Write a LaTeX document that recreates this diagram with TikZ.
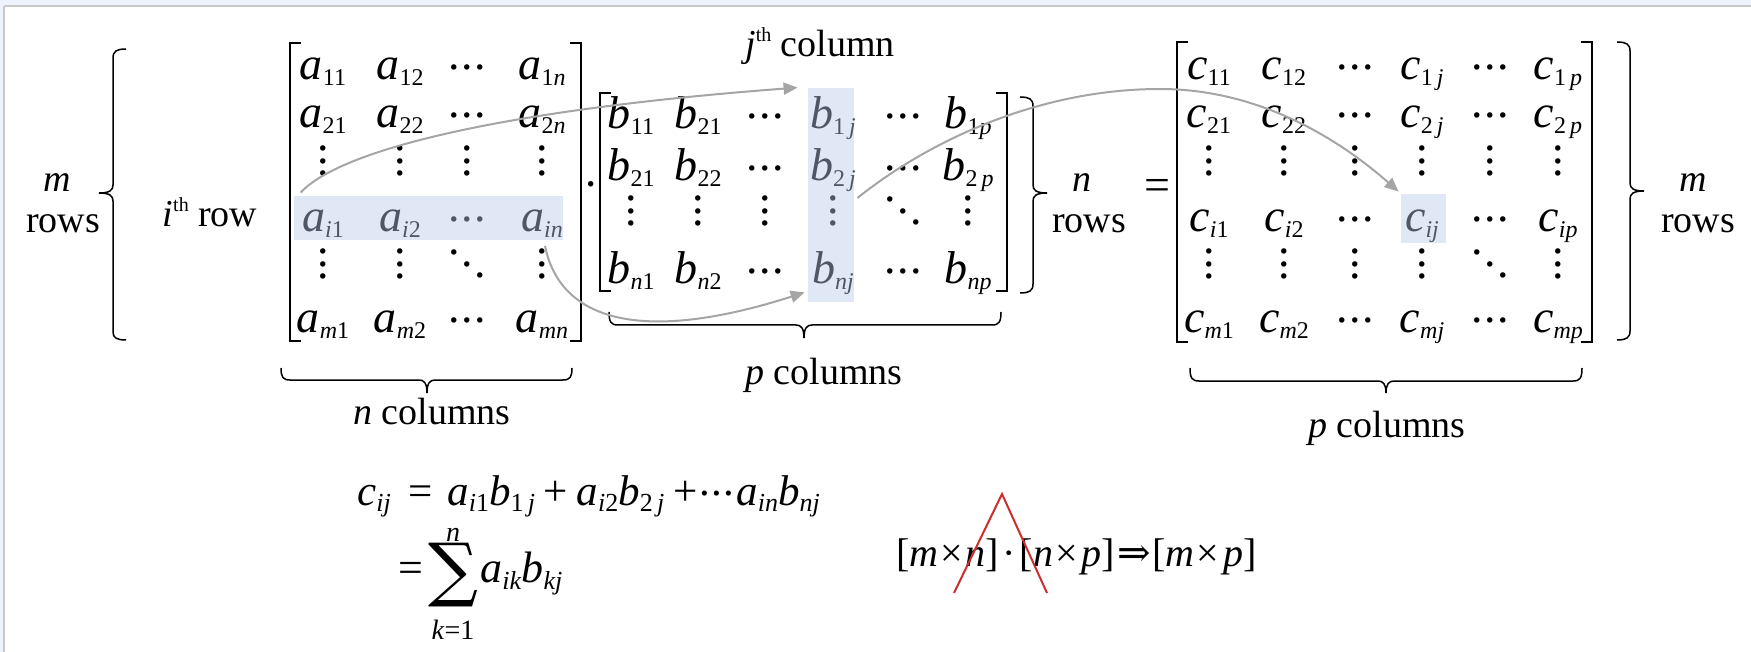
\documentclass[tikz,border=0pt]{standalone}
\usepackage{fontspec}
\setmainfont{Liberation Serif}
\newfontfamily\djserif{DejaVu Serif}
\usetikzlibrary{arrows.meta,fit}
\definecolor{hlfill}{RGB}{225,232,245}
\definecolor{hltext}{RGB}{80,86,102}
\definecolor{arrgray}{RGB}{165,165,165}
\definecolor{redline}{RGB}{205,45,45}
\definecolor{framebg}{RGB}{238,242,250}
\definecolor{framegray}{RGB}{200,200,200}
\newcommand\sbm[1]{\raisebox{-0.12em}{\fontsize{12}{12}\selectfont #1}}
\newcommand\el[2]{\textit{#1}\sbm{#2}}
\newcommand\fsb[1]{\raisebox{-0.16em}{\fontsize{13}{13}\selectfont #1}}
\newcommand\fel[2]{\textit{#1}\fsb{#2}}
\newcommand\hd{\raisebox{0.22em}{.\kern0.03em.\kern0.03em.}}
\newcommand\vd{\vbox{\baselineskip=0.27em\lineskiplimit=-1em\hbox{.}\hbox{.}\hbox{.}}}
\newcommand\dd{\hbox{\raisebox{0.5em}{.}\kern0.03em\raisebox{0.25em}{.}\kern0.03em.}}
\newcommand\thsup{\raisebox{0.42em}{\fontsize{10}{10}\selectfont th}}
\tikzset{
  ent/.style={inner sep=0pt, anchor=base, font=\fontsize{23}{23}\selectfont},
  dts/.style={inner sep=0pt, anchor=center, font=\fontsize{23}{23}\selectfont},
  hlent/.style={ent, text=hltext},
  hldts/.style={dts, text=hltext},
  lbl/.style={inner sep=0pt, anchor=base, font=\fontsize{19}{19}\selectfont},
  bkt/.style={line width=1pt},
  brc/.style={line width=0.75pt},
  hl/.style={fill=hlfill, draw=none, inner sep=0pt},
  arr/.style={draw=arrgray, line width=1pt, -{Triangle[length=7pt,width=6pt]}},
  redl/.style={draw=redline, line width=1pt},
}
\begin{document}
\begin{tikzpicture}[x=0.5pt,y=-0.5pt]
\useasboundingbox (0,0) rectangle (1751,652);
% frame
\fill[framebg] (0,0) rectangle (1751,5);
\fill[framebg] (0,0) rectangle (3,652);
\draw[framegray, line width=1pt] (4,6) -- (1751,6);
\draw[framegray, line width=1pt] (4,6) -- (4,652);
% highlights
\node[hl, fit={(294,196) (563,240)}] (hlA) {};
\node[hl, fit={(808,88) (854,302)}] (hlB) {};
\node[hl, fit={(1401,194) (1446,243)}] (hlC) {};
% left label and brace
\node[lbl] (mL) at (57,192) {\textit{m}};
\node[lbl] (rowsL) at (63,233) {rows};
\draw[brc] (126,49) .. controls (117,49) and (113,51) .. (113,58) -- (113,185) .. controls (113,190) and (110,193) .. (99,193) .. controls (110,193) and (113,196) .. (113,201) -- (113,332) .. controls (113,338) and (117,340) .. (126,340);
\node[lbl] (ith) at (210,227) {\textit{i}\thsup\ row};
% matrix A
\draw[bkt] (301,43) -- (290,43) -- (290,341) -- (301,341);
\draw[bkt] (570,43) -- (581,43) -- (581,341) -- (570,341);
\node[ent] (a11) at (323,80) {\el{a}{11}};
\node[ent] (a12) at (400,80) {\el{a}{12}};
\node[ent] (a13) at (467,80) {\hd};
\node[ent] (a14) at (542,80) {\el{a}{1\textit{n}}};
\node[ent] (a21) at (323,128) {\el{a}{21}};
\node[ent] (a22) at (400,128) {\el{a}{22}};
\node[ent] (a23) at (467,128) {\hd};
\node[ent] (a24) at (542,128) {\el{a}{2\textit{n}}};
\node[dts] (a31) at (323,161) {\vd};
\node[dts] (a32) at (400,161) {\vd};
\node[dts] (a33) at (467,161) {\vd};
\node[dts] (a34) at (542,161) {\vd};
\node[hlent] (ai1) at (323,232) {\el{a}{\textit{i}1}};
\node[hlent] (ai2) at (400,232) {\el{a}{\textit{i}2}};
\node[hlent] (ai3) at (467,232) {\hd};
\node[hlent] (ain) at (542,232) {\el{a}{\textit{in}}};
\node[dts] (a51) at (323,264) {\vd};
\node[dts] (a52) at (400,264) {\vd};
\node[dts] (a53) at (467,264) {\dd};
\node[dts] (a54) at (542,264) {\vd};
\node[ent] (am1) at (323,333) {\el{a}{\textit{m}1}};
\node[ent] (am2) at (400,333) {\el{a}{\textit{m}2}};
\node[ent] (am3) at (467,333) {\hd};
\node[ent] (amn) at (542,333) {\el{a}{\textit{mn}}};
\draw[brc] (281,368) .. controls (281,377) and (283,380) .. (290,380) -- (419,380) .. controls (424,380) and (427,383) .. (427,393) .. controls (427,383) and (430,380) .. (435,380) -- (563,380) .. controls (570,380) and (572,377) .. (572,368);
\node[lbl] (ncol) at (432,424) {\textit{n} columns};
\node[dts] (dotAB) at (591,191) {·};
% matrix B
\node[lbl] (jth) at (820,57) {\textit{j}\thsup\ column};
\draw[bkt] (611,93) -- (600,93) -- (600,291) -- (611,291);
\draw[bkt] (996,93) -- (1007,93) -- (1007,291) -- (996,291);
\node[ent] (b11) at (631,129) {\el{b}{11}};
\node[ent] (b12) at (698,129) {\el{b}{21}};
\node[ent] (b13) at (765,129) {\hd};
\node[hlent] (b1j) at (833,129) {\el{b}{1\,\textit{j}}};
\node[ent] (b15) at (903,129) {\hd};
\node[ent] (b1p) at (968,129) {\el{b}{1\textit{p}}};
\node[ent] (b21) at (631,181) {\el{b}{21}};
\node[ent] (b22) at (698,181) {\el{b}{22}};
\node[ent] (b23) at (765,181) {\hd};
\node[hlent] (b2j) at (833,181) {\el{b}{2\,\textit{j}}};
\node[ent] (b25) at (903,181) {\hd};
\node[ent] (b2p) at (968,181) {\el{b}{2\,\textit{p}}};
\node[dts] (b31) at (631,211) {\vd};
\node[dts] (b32) at (698,211) {\vd};
\node[dts] (b33) at (765,211) {\vd};
\node[hldts] (b34) at (833,211) {\vd};
\node[dts] (b35) at (903,211) {\dd};
\node[dts] (b36) at (968,211) {\vd};
\node[ent] (bn1) at (631,284) {\el{b}{\textit{n}1}};
\node[ent] (bn2) at (698,284) {\el{b}{\textit{n}2}};
\node[ent] (bn3) at (765,284) {\hd};
\node[hlent] (bnj) at (833,284) {\el{b}{\textit{nj}}};
\node[ent] (bn5) at (903,284) {\hd};
\node[ent] (bnp) at (968,284) {\el{b}{\textit{np}}};
\draw[brc] (1020,97) .. controls (1029,97) and (1033,99) .. (1033,106) -- (1033,185) .. controls (1033,190) and (1036,193) .. (1047,193) .. controls (1036,193) and (1033,196) .. (1033,201) -- (1033,284) .. controls (1033,291) and (1029,293) .. (1020,293);
\draw[brc] (609,312) .. controls (609,322) and (611,325) .. (618,325) -- (796,325) .. controls (801,325) and (804,328) .. (804,338) .. controls (804,328) and (807,325) .. (812,325) -- (992,325) .. controls (999,325) and (1001,322) .. (1001,312);
\node[lbl] (pcolB) at (824,385) {\textit{p} columns};
\node[lbl] (nB) at (1082,192) {\textit{n}};
\node[lbl] (rowsB) at (1089,233) {rows};
\node[dts] (eq) at (1157,190) {=};
% matrix C
\draw[bkt] (1188,42) -- (1177,42) -- (1177,342) -- (1188,342);
\draw[bkt] (1581,42) -- (1592,42) -- (1592,342) -- (1581,342);
\node[ent] (c11) at (1209,80) {\el{c}{11}};
\node[ent] (c12) at (1284,80) {\el{c}{12}};
\node[ent] (c13) at (1355,80) {\hd};
\node[ent] (c1j) at (1422,80) {\el{c}{1\,\textit{j}}};
\node[ent] (c15) at (1490,80) {\hd};
\node[ent] (c1p) at (1558,80) {\el{c}{1\,\textit{p}}};
\node[ent] (c21) at (1209,128) {\el{c}{21}};
\node[ent] (c22) at (1284,128) {\el{c}{22}};
\node[ent] (c23) at (1355,128) {\hd};
\node[ent] (c2j) at (1422,128) {\el{c}{2\,\textit{j}}};
\node[ent] (c25) at (1490,128) {\hd};
\node[ent] (c2p) at (1558,128) {\el{c}{2\,\textit{p}}};
\node[dts] (c31) at (1209,161) {\vd};
\node[dts] (c32) at (1284,161) {\vd};
\node[dts] (c33) at (1355,161) {\vd};
\node[dts] (c34) at (1422,161) {\vd};
\node[dts] (c35) at (1490,161) {\vd};
\node[dts] (c36) at (1558,161) {\vd};
\node[ent] (ci1) at (1209,232) {\el{c}{\textit{i}1}};
\node[ent] (ci2) at (1284,232) {\el{c}{\textit{i}2}};
\node[ent] (ci3) at (1355,232) {\hd};
\node[hlent] (cij) at (1422,232) {\el{c}{\textit{ij}}};
\node[ent] (ci5) at (1490,232) {\hd};
\node[ent] (cip) at (1558,232) {\el{c}{\textit{ip}}};
\node[dts] (c51) at (1209,264) {\vd};
\node[dts] (c52) at (1284,264) {\vd};
\node[dts] (c53) at (1355,264) {\vd};
\node[dts] (c54) at (1422,264) {\vd};
\node[dts] (c55) at (1490,264) {\dd};
\node[dts] (c56) at (1558,264) {\vd};
\node[ent] (cm1) at (1209,333) {\el{c}{\textit{m}1}};
\node[ent] (cm2) at (1284,333) {\el{c}{\textit{m}2}};
\node[ent] (cm3) at (1355,333) {\hd};
\node[ent] (cmj) at (1422,333) {\el{c}{\textit{mj}}};
\node[ent] (cm5) at (1490,333) {\hd};
\node[ent] (cmp) at (1558,333) {\el{c}{\textit{mp}}};
\draw[brc] (1190,368) .. controls (1190,378) and (1192,381) .. (1199,381) -- (1378,381) .. controls (1383,381) and (1386,384) .. (1386,393) .. controls (1386,384) and (1389,381) .. (1394,381) -- (1573,381) .. controls (1580,381) and (1582,378) .. (1582,368);
\node[lbl] (pcolC) at (1387,437) {\textit{p} columns};
\draw[brc] (1617,42) .. controls (1626,42) and (1630,44) .. (1630,51) -- (1630,183) .. controls (1630,188) and (1633,191) .. (1644,191) .. controls (1633,191) and (1630,194) .. (1630,199) -- (1630,331) .. controls (1630,338) and (1626,340) .. (1617,340);
\node[lbl] (mR) at (1693,192) {\textit{m}};
\node[lbl] (rowsR) at (1698,233) {rows};
% arrows
\draw[arr] ([shift={(7,-3)}]hlA.north west) .. controls (340,150) and (500,110) .. ([shift={(-10,0)}]hlB.north west);
\draw[arr] ([shift={(3,8)}]ain.south) .. controls (560,320) and (640,345) .. ([shift={(-3,-10)}]hlB.south west);
\coordinate (peak) at (1160,89);
\draw[arr] ([shift={(3,3)}]hlB.east) .. controls (930,140) and (1040,89) .. (peak) .. controls (1260,89) and (1340,140) .. ([shift={(-2,-2)}]hlC.north west);
% formulas
\node[inner sep=0pt, anchor=base west, font=\fontsize{21.5}{21.5}\selectfont] (f1) at (357,505)
  {\fel{c}{\textit{ij}}\hspace{0.4em}=\hspace{0.35em}\fel{a}{\textit{i}1}\fel{b}{1\,\textit{j}}\hspace{0.2em}+\hspace{0.2em}\fel{a}{\textit{i}2}\fel{b}{2\,\textit{j}}\hspace{0.2em}+\hspace{0.05em}\hd\hspace{0.05em}\fel{a}{\textit{in}}\fel{b}{\textit{nj}}};
\node[inner sep=0pt, anchor=base west, font=\fontsize{22}{22}\selectfont] (f2eq) at (398,582) {=};
\node[inner sep=0pt, anchor=center, font=\djserif\fontsize{35}{35}\selectfont] (sig) at (453,575) {∑};
\node[inner sep=0pt, anchor=center, font=\fontsize{14}{14}\selectfont] (sigtop) at (453,535) {\textit{n}};
\node[inner sep=0pt, anchor=center, font=\fontsize{14}{14}\selectfont] (sigbot) at (453,630) {\textit{k}=1};
\node[inner sep=0pt, anchor=base west, font=\fontsize{22}{22}\selectfont] (f2) at (480,582) {\fel{a}{\textit{ik}}\fel{b}{\textit{kj}}};
\node[inner sep=0pt, anchor=base west, font=\fontsize{20}{20}\selectfont] (f3) at (896,566)
  {[\textit{m}\hspace{0.05em}×\hspace{0.05em}\textit{n}]\hspace{0.1em}·\hspace{0.1em}[\textit{n}\hspace{0.05em}×\hspace{0.1em}\textit{p}]\hspace{0.05em}{\djserif ⇒}\hspace{0.05em}[\textit{m}\hspace{0.05em}×\hspace{0.1em}\textit{p}]};
\coordinate (rA) at (954,593);
\coordinate (rT) at (1002,494);
\coordinate (rB) at (1047,593);
\draw[redl] (rA) -- (rT) -- (rB);
\end{tikzpicture}
\end{document}
